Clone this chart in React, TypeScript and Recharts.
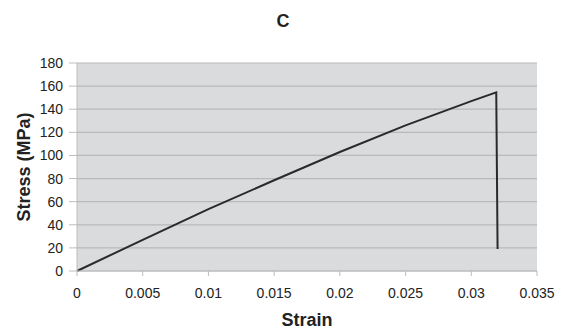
import React from 'react';
import { LineChart, Line, XAxis, YAxis, CartesianGrid } from 'recharts';

const strain = [0, 0.005, 0.01, 0.015, 0.02, 0.025, 0.03, 0.0319, 0.032];
const stress = [0, 27, 53.5, 78.5, 103, 126, 147, 154.6, 19];
const xTicks = [0, 0.005, 0.01, 0.015, 0.02, 0.025, 0.03, 0.035];
const yTicks = [0, 20, 40, 60, 80, 100, 120, 140, 160, 180];
const title = 'C';

const data = strain.map((s, i) => ({ strain: s, stress: stress[i] }));

const font = 'Liberation Sans, Arial, sans-serif';

export default function App() {
  return (
    <div style={{ position: 'absolute', left: 0, top: 0, width: 566, height: 330, background: '#fff' }}>
      <LineChart width={566} height={330} data={data} margin={{ top: 63, right: 29, left: 0, bottom: 0 }}>
        <text x={283} y={21} textAnchor="middle" dominantBaseline="central" fontFamily={font} fontWeight="bold" fontSize={18} fill="#222">{title}</text>
        <CartesianGrid vertical={false} fill="#dadbdc" stroke="#b9b9b9" strokeWidth={1.2} />
        <XAxis
          dataKey="strain"
          type="number"
          domain={[0, 0.035]}
          ticks={xTicks}
          tickFormatter={(v: number) => String(v)}
          height={59}
          tickSize={5}
          tickMargin={12}
          stroke="#bdbdbd"
          tick={{ fill: '#222', fontSize: 14, fontFamily: font }}
          label={() => (
            <text x={307} y={320} textAnchor="middle" dominantBaseline="central" fontFamily={font} fontWeight="bold" fontSize={18} fill="#222">Strain</text>
          )}
        />
        <YAxis
          type="number"
          domain={[0, 180]}
          ticks={yTicks}
          width={77}
          tickSize={8}
          tickMargin={6}
          stroke="#bdbdbd"
          tick={{ fill: '#222', fontSize: 14, fontFamily: font }}
          label={() => (
            <text x={24} y={167} transform="rotate(-90 24 167)" textAnchor="middle" dominantBaseline="central" fontFamily={font} fontWeight="bold" fontSize={18} fill="#222">Stress (MPa)</text>
          )}
        />
        <Line type="linear" dataKey="stress" stroke="#2a2a2a" strokeWidth={2} dot={false} isAnimationActive={false} />
      </LineChart>
    </div>
  );
}
